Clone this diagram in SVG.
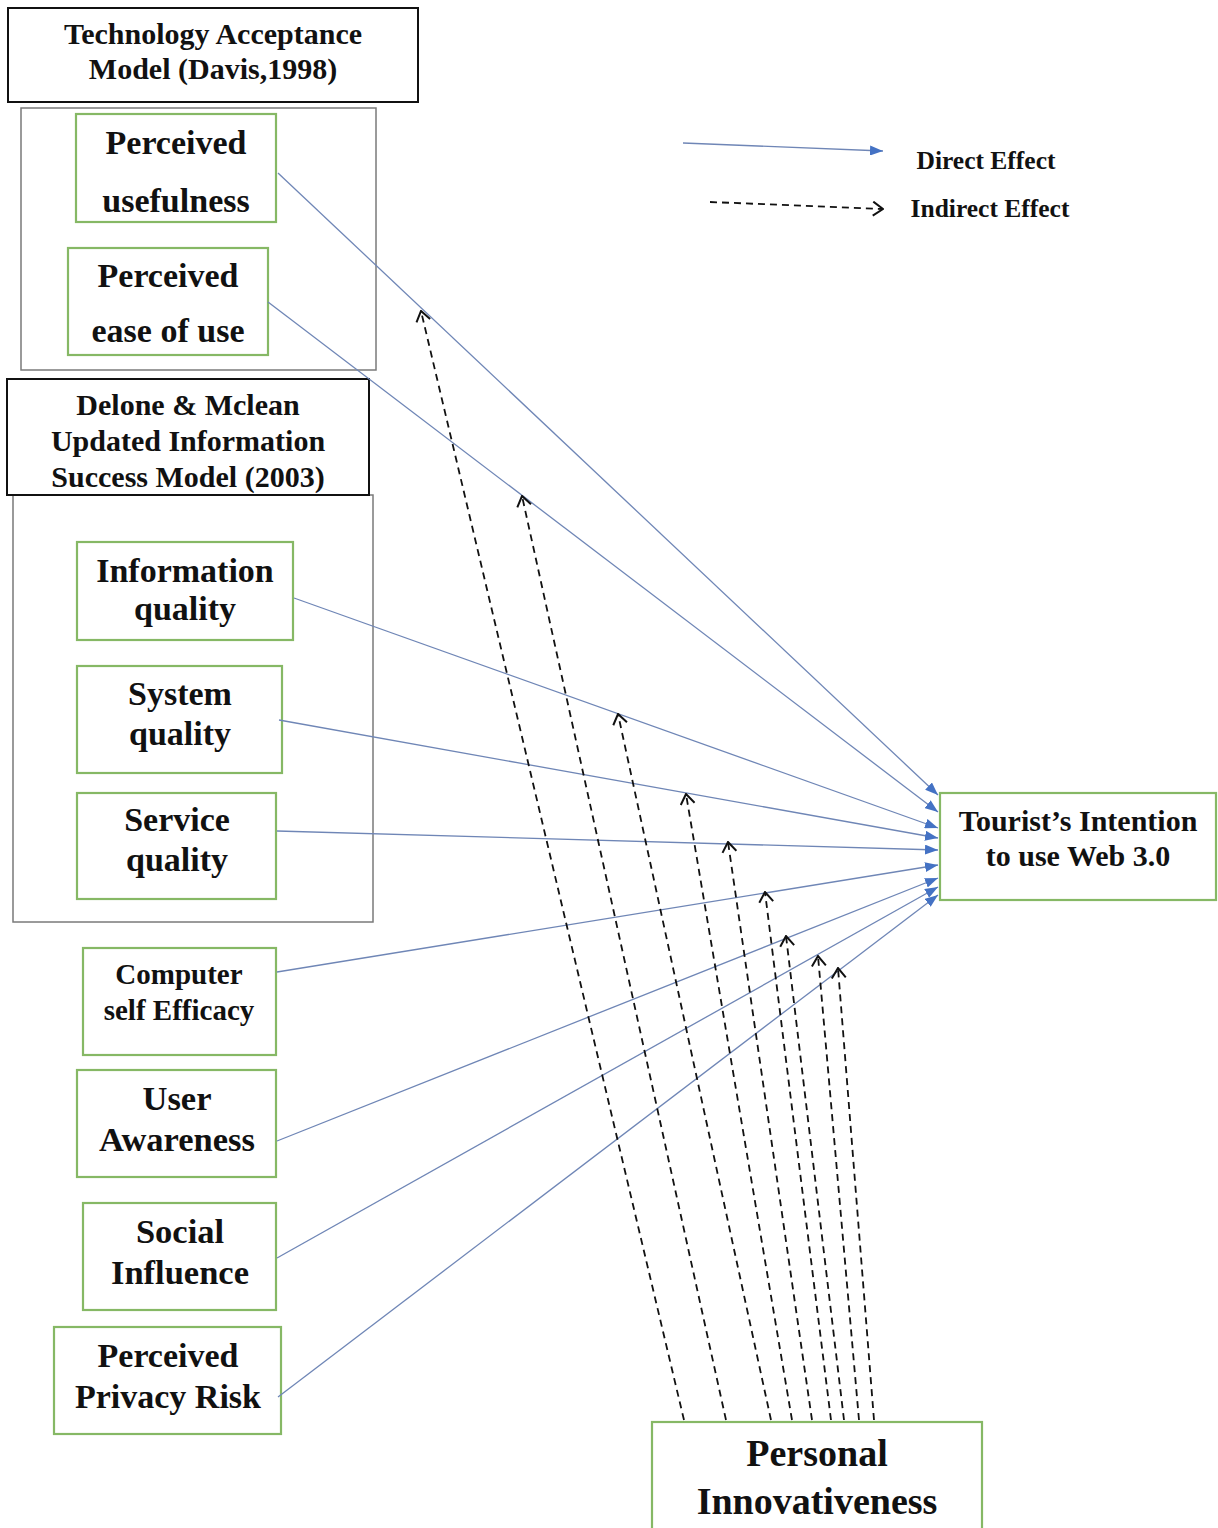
<svg xmlns="http://www.w3.org/2000/svg" width="1218" height="1528" viewBox="0 0 1218 1528">
<style>
.t{font-family:"Liberation Serif","Times New Roman",serif;font-weight:bold;text-anchor:middle;fill:#111}
.hdr{fill:#fff;stroke:#111;stroke-width:2}
.grp{fill:none;stroke:#7a7a7a;stroke-width:1.5}
.nd{fill:#fff;stroke:#86b865;stroke-width:2.2}
.de{fill:none;stroke:#6f86b6;stroke-width:1.3;marker-end:url(#ab)}
.ie{fill:none;stroke:#111;stroke-width:1.8;stroke-dasharray:7 5;marker-end:url(#ac)}
</style>
<defs>
<marker id="ab" viewBox="0 0 13 10" refX="13" refY="5" markerWidth="13" markerHeight="10" markerUnits="userSpaceOnUse" orient="auto"><path d="M0,0 L13,5 L0,10 z" fill="#4472C4"/></marker>
<marker id="ac" viewBox="0 0 12 16" refX="11" refY="8" markerWidth="12" markerHeight="16" markerUnits="userSpaceOnUse" orient="auto"><path d="M1,1 L11,8 L1,15" fill="none" stroke="#111" stroke-width="2"/></marker>
</defs>
<rect width="1218" height="1528" fill="#fff"/>

<g id="tam-group">
<rect class="grp" x="21" y="108" width="355" height="262"/>
</g>
<g id="tam-header">
<rect class="hdr" x="8" y="8" width="410" height="94"/>
<text class="t" x="213" y="44" font-size="30">Technology Acceptance</text>
<text class="t" x="213" y="79" font-size="30">Model (Davis,1998)</text>
</g>
<g id="n-pu">
<rect class="nd" x="76" y="114" width="200" height="108"/>
<text class="t" x="176" y="154" font-size="34">Perceived</text>
<text class="t" x="176" y="212" font-size="34">usefulness</text>
</g>
<g id="n-peou">
<rect class="nd" x="68" y="248" width="200" height="107"/>
<text class="t" x="168" y="287" font-size="34">Perceived</text>
<text class="t" x="168" y="342" font-size="34">ease of use</text>
</g>

<g id="dm-group">
<rect class="grp" x="13" y="495" width="360" height="427"/>
</g>
<g id="dm-header">
<rect class="hdr" x="7" y="379" width="362" height="116"/>
<text class="t" x="188" y="415" font-size="30">Delone &amp; Mclean</text>
<text class="t" x="188" y="451" font-size="30">Updated Information</text>
<text class="t" x="188" y="487" font-size="30">Success Model (2003)</text>
</g>
<g id="n-iq">
<rect class="nd" x="77" y="542" width="216" height="98"/>
<text class="t" x="185" y="582" font-size="34">Information</text>
<text class="t" x="185" y="620" font-size="34">quality</text>
</g>
<g id="n-sysq">
<rect class="nd" x="77" y="666" width="205" height="107"/>
<text class="t" x="180" y="705" font-size="34">System</text>
<text class="t" x="180" y="745" font-size="34">quality</text>
</g>
<g id="n-servq">
<rect class="nd" x="77" y="793" width="199" height="106"/>
<text class="t" x="177" y="831" font-size="34">Service</text>
<text class="t" x="177" y="871" font-size="34">quality</text>
</g>
<g id="n-cse">
<rect class="nd" x="83" y="948" width="193" height="107"/>
<text class="t" x="179" y="984" font-size="29">Computer</text>
<text class="t" x="179" y="1020" font-size="29">self Efficacy</text>
</g>
<g id="n-ua">
<rect class="nd" x="77" y="1070" width="199" height="107"/>
<text class="t" x="177" y="1110" font-size="34.5">User</text>
<text class="t" x="177" y="1151" font-size="34.5">Awareness</text>
</g>
<g id="n-si">
<rect class="nd" x="83" y="1203" width="193" height="107"/>
<text class="t" x="180" y="1243" font-size="34.5">Social</text>
<text class="t" x="180" y="1284" font-size="34.5">Influence</text>
</g>
<g id="n-ppr">
<rect class="nd" x="54" y="1327" width="227" height="107"/>
<text class="t" x="168" y="1367" font-size="34">Perceived</text>
<text class="t" x="168" y="1408" font-size="34">Privacy Risk</text>
</g>
<g id="n-ti">
<rect class="nd" x="940" y="793" width="276" height="107"/>
<text class="t" x="1078" y="831" font-size="30">Tourist’s Intention</text>
<text class="t" x="1078" y="866" font-size="30">to use Web 3.0</text>
</g>
<g id="n-pi">
<rect class="nd" x="652" y="1422" width="330" height="120"/>
<text class="t" x="817" y="1466" font-size="38">Personal</text>
<text class="t" x="817" y="1514" font-size="38">Innovativeness</text>
</g>

<g id="legend">
<line class="de" x1="683" y1="143" x2="883" y2="151"/>
<text class="t" x="986" y="169" font-size="25.5">Direct Effect</text>
<line class="ie" x1="710" y1="202" x2="883" y2="209"/>
<text class="t" x="990" y="217" font-size="25.5">Indirect Effect</text>
</g>

<g id="connectors">
<line class="de" x1="278" y1="173" x2="938" y2="795"/>
<line class="de" x1="268" y1="302" x2="938" y2="812"/>
<line class="de" x1="294" y1="598" x2="938" y2="828"/>
<line class="de" x1="279" y1="720" x2="938" y2="838"/>
<line class="de" x1="277" y1="831" x2="938" y2="850"/>
<line class="de" x1="277" y1="972" x2="938" y2="865"/>
<line class="de" x1="277" y1="1141" x2="938" y2="878"/>
<line class="de" x1="277" y1="1258" x2="938" y2="887"/>
<line class="de" x1="278" y1="1397" x2="938" y2="895"/>

<line class="ie" x1="684" y1="1420" x2="421" y2="311"/>
<line class="ie" x1="726" y1="1420" x2="522" y2="496"/>
<line class="ie" x1="771" y1="1420" x2="618" y2="714"/>
<line class="ie" x1="792" y1="1420" x2="686" y2="794"/>
<line class="ie" x1="812" y1="1420" x2="728" y2="842"/>
<line class="ie" x1="831" y1="1420" x2="765" y2="892"/>
<line class="ie" x1="844" y1="1420" x2="786" y2="936"/>
<line class="ie" x1="859" y1="1420" x2="818" y2="956"/>
<line class="ie" x1="874" y1="1420" x2="838" y2="968"/>
</g>
</svg>
